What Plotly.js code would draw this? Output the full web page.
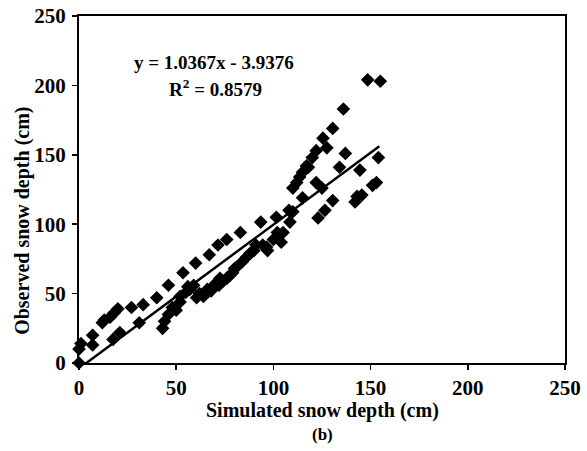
<!DOCTYPE html>
<html>
<head>
<meta charset="utf-8">
<script src="https://cdn.plot.ly/plotly-3.0.1.min.js"></script>
<style>html,body{margin:0;padding:0;background:#fff;}#chart{width:587px;height:451px;}</style>
</head>
<body>
<div id="chart"></div>
<script>
// Simulated (x) vs observed (y) snow depth, cm
const simulated = [0,0,1,7,7,12,13,16,18,20,17.5,21,27,31,33,40,43,44,46,46,48,50,52,52,53.5,55,56,57,59,60,60.5,62,64,65,66,67,68,69,70,71.5,72,72.5,74,76,76,77.5,79,80,81,83,84,86,88,90,91,93.5,94.5,96.5,97,100,101.5,102,103,104,105,108,108.5,110,110,112,113.5,115,115,117,118,120,122,122,123,125,125.5,126.5,127.5,130.5,130.5,134,136,137,142,143,144.5,145.5,148.5,151,153,154,155];
const observed  = [0,10,14,20,13,29,31,33,36,39,17,22,40,29,42,47,25,30,35,56,40,38,44,48,65,51,55,53,56,72,47,50,48,51,53,78,52,54,57,85,56,61,59,61,89,63,65,68,69,94,73,76,79,81,85,101.5,85,83.5,81,89,105,94,92,87,94,110,101.5,109,126,130,134,119,137.5,142,141,148,153,130,104.5,126,162,110,155,117,169,141,183,151,116,120,139,121,204,128,130,148,203];
// Linear fit shown on chart: y = 1.0367x - 3.9376
const slope = 1.0367, intercept = -3.9376;
const fitX = [0, 154.5];
const fitY = fitX.map(v => slope * v + intercept);
const tickVals = [0, 50, 100, 150, 200, 250];

const FONT = "Liberation Serif, Times New Roman, serif";
const bold = (size) => ({family: FONT, size: size, color: '#000', weight: 'bold'});

const traces = [
  {x: simulated, y: observed, type: 'scatter', mode: 'markers', cliponaxis: false,
   marker: {symbol: 'diamond', size: 10.5, color: '#000'}, showlegend: false, hoverinfo: 'skip'},
  {x: fitX, y: fitY, type: 'scatter', mode: 'lines', line: {color: '#000', width: 2.5}, showlegend: false}
];

const axis = {
  range: [0, 250], tickvals: tickVals, ticktext: tickVals.map(String),
  ticks: 'outside', ticklen: 5, tickwidth: 1.5, tickcolor: '#000',
  showgrid: false, zeroline: false, showline: true, linewidth: 2, linecolor: '#000', mirror: true,
  tickfont: bold(21), fixedrange: true
};

const layout = {
  width: 587, height: 451,
  margin: {l: 79, r: 22, t: 16, b: 88},
  paper_bgcolor: '#fff', plot_bgcolor: '#fff',
  xaxis: Object.assign({}, axis),
  yaxis: Object.assign({}, axis, {ticklabelstandoff: 2}),
  annotations: [
    {text: 'Simulated snow depth (cm)', xref: 'paper', yref: 'paper', x: 0.5, y: -0.138,
     xanchor: 'center', yanchor: 'middle', showarrow: false, font: bold(20)},
    {text: '(b)', xref: 'paper', yref: 'paper', x: 0.5, y: -0.205,
     xanchor: 'center', yanchor: 'middle', showarrow: false, font: bold(17)},
    {text: 'Observed snow depth (cm)', xref: 'paper', yref: 'paper', x: -0.115, y: 0.41,
     xanchor: 'center', yanchor: 'middle', textangle: -90, showarrow: false, font: bold(20)},
    {text: 'y = 1.0367x - 3.9376', xref: 'paper', yref: 'paper', x: 0.278, y: 0.865,
     xanchor: 'center', yanchor: 'middle', showarrow: false, font: bold(19)},
    {text: 'R<sup>2</sup> = 0.8579', xref: 'paper', yref: 'paper', x: 0.28, y: 0.793,
     xanchor: 'center', yanchor: 'middle', showarrow: false, font: bold(19)}
  ]
};

Plotly.newPlot('chart', traces, layout, {staticPlot: true, displayModeBar: false});
</script>
</body>
</html>
